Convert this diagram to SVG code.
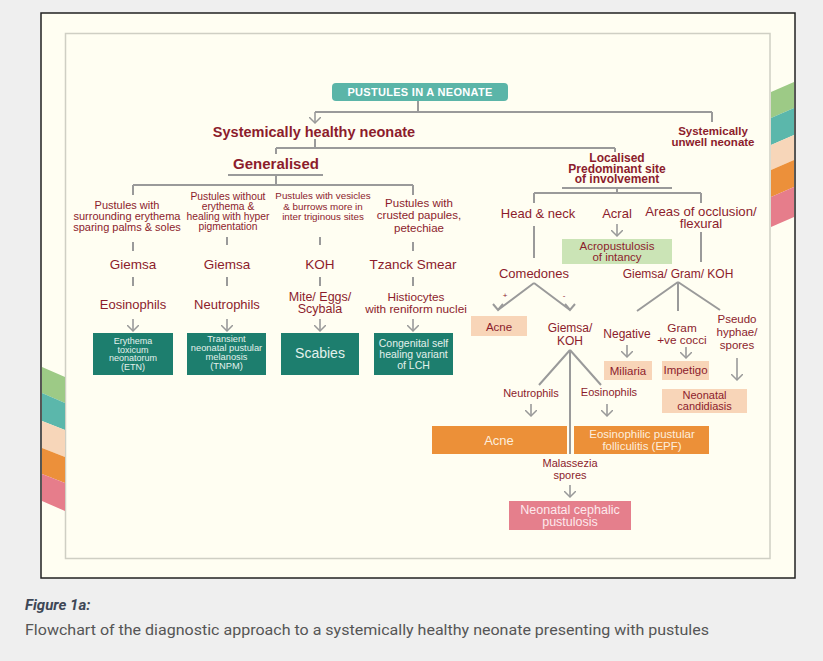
<svg xmlns="http://www.w3.org/2000/svg" width="823" height="661" viewBox="0 0 823 661">
<defs>
<marker id="chev" viewBox="0 0 10 12" refX="6" refY="6" markerWidth="10" markerHeight="12" markerUnits="userSpaceOnUse" orient="auto">
<path d="M0,0 L6,6 L0,12" fill="none" stroke="#999" stroke-width="1.5"/>
</marker>
<style>
.ln{fill:none;stroke:#9a9a9a;stroke-width:2}
.ar{fill:none;stroke:#9a9a9a;stroke-width:1.6;marker-end:url(#chev)}
.t{font-family:"Liberation Sans",Arial,sans-serif;fill:#8c1c2c;text-anchor:middle}
.b{font-weight:bold}
.w{fill:#e3f1ec}
.wo{fill:#fdeedd}
.teal{fill:#1d7e6e}
.peach{fill:#f8d5b8}
.orange{fill:#ec9038}
.pink{fill:#e57f8c}
.lg{fill:#cbe4b6}
</style>
</defs>
<rect x="0" y="0" width="823" height="661" fill="#efefef"/>
<rect x="41" y="13" width="754" height="565" fill="#fffef2" stroke="#222" stroke-width="1.5"/>
<rect x="65.5" y="33.5" width="704.5" height="525" fill="none" stroke="#cfcfc4" stroke-width="1.5"/>
<g id="stripes-left">
<polygon points="42,367 65,377 65,403 42,393" fill="#9dca86"/>
<polygon points="42,393 65,403 65,430 42,421" fill="#5bb7ab"/>
<polygon points="42,421 65,430 65,457 42,448" fill="#f7d6b9"/>
<polygon points="42,448 65,457 65,483 42,474" fill="#ec903a"/>
<polygon points="42,474 65,483 65,511 42,501" fill="#e67d8b"/>
</g>
<g id="stripes-right">
<polygon points="771,92 794,82 794,108 771,118" fill="#9dca86"/>
<polygon points="771,118 794,108 794,135 771,145" fill="#5bb7ab"/>
<polygon points="771,145 794,135 794,160 771,170" fill="#f7d6b9"/>
<polygon points="771,170 794,160 794,187 771,197" fill="#ec903a"/>
<polygon points="771,197 794,187 794,217 771,227" fill="#e67d8b"/>
</g>
<g id="connectors">
<path class="ln" d="M418,101 V112 M315,112 H712 M712,112 V122"/>
<path class="ar" d="M315,112 V123"/>
<path class="ln" d="M315,139 V148 M276,148 H615 M276,148 V154 M615,148 V152"/>
<path class="ln" d="M228,175 H323 M276,175 V185 M133,185 H413 M133,185 V195 M413,185 V195"/>
<path class="ln" d="M133,242 V251 M227,237 V245 M320,237 V245 M413,242 V251"/>
<path class="ln" d="M133,277 V286 M227,277 V286 M320,277 V286 M413,277 V286"/>
<path class="ar" d="M133,319 V331"/>
<path class="ar" d="M227,319 V331"/>
<path class="ar" d="M320,319 V331"/>
<path class="ar" d="M413,319 V331"/>
<path class="ln" d="M562,188 H672 M617,188 V193 M534,193 H701 M534,193 V203 M701,193 V203"/>
<path class="ar" d="M617,224 V236"/>
<path class="ln" d="M534,226 V258 M701,232 V262"/>
<path class="ln" d="M534,283 L498,310 M534,283 L570,310"/>
<path class="ln" d="M493,304 L498,310 L503,304 M565,304 L570,310 L575,304" stroke-width="1.6"/>
<path class="ln" d="M678,282 L637,311 M678,282 V311 M678,282 L720,310"/>
<path class="ar" d="M627,345 V357"/>
<path class="ar" d="M686,347 V358"/>
<path class="ar" d="M737,358 V380"/>
<path class="ln" d="M570,350 L539,385 M570,350 L601,385 M570,350 V454"/>
<path class="ar" d="M531,404 V416"/>
<path class="ar" d="M607,404 V416"/>
<path class="ar" d="M570,485 V497"/>
</g>
<g id="n-title">
<rect x="332" y="83" width="176" height="18" rx="4" fill="#5bb5a8"/>
<text class="t b" x="420" y="96" font-size="11" style="fill:#fff" letter-spacing="0.3">PUSTULES IN A NEONATE</text>
</g>
<g id="n-healthy"><text class="t b" x="314" y="137" font-size="14.5">Systemically healthy neonate</text></g>
<g id="n-unwell"><text class="t b" x="713" y="135" font-size="11.5">Systemically</text><text class="t b" x="713" y="146" font-size="11.5">unwell neonate</text></g>
<g id="n-generalised"><text class="t b" x="276" y="169" font-size="15">Generalised</text></g>
<g id="n-localised"><text class="t b" font-size="12"><tspan x="617" y="162">Localised</tspan><tspan x="617" y="172.5">Predominant site</tspan><tspan x="617" y="183">of involvement</tspan></text></g>
<g id="n-col1"><text class="t" font-size="11"><tspan x="127" y="209">Pustules with</tspan><tspan x="127" y="220">surrounding erythema</tspan><tspan x="127" y="231">sparing palms &amp; soles</tspan></text></g>
<g id="n-col2"><text class="t" font-size="10.3"><tspan x="228" y="200">Pustules without</tspan><tspan x="228" y="210">erythema &amp;</tspan><tspan x="228" y="220">healing with hyper</tspan><tspan x="228" y="230">pigmentation</tspan></text></g>
<g id="n-col3"><text class="t" font-size="9.8"><tspan x="323" y="199">Pustules with vesicles</tspan><tspan x="323" y="210">&amp; burrows more in</tspan><tspan x="323" y="220">inter triginous sites</tspan></text></g>
<g id="n-col4"><text class="t" font-size="11.5"><tspan x="419" y="207">Pustules with</tspan><tspan x="419" y="219">crusted papules,</tspan><tspan x="419" y="232">petechiae</tspan></text></g>
<g id="n-giemsa1"><text class="t" x="133" y="269" font-size="13.5">Giemsa</text></g>
<g id="n-giemsa2"><text class="t" x="227" y="269" font-size="13.5">Giemsa</text></g>
<g id="n-koh"><text class="t" x="320" y="269" font-size="13.5">KOH</text></g>
<g id="n-tzanck"><text class="t" x="413" y="269" font-size="13.5">Tzanck Smear</text></g>
<g id="n-eos1"><text class="t" x="133" y="309" font-size="13">Eosinophils</text></g>
<g id="n-neu1"><text class="t" x="227" y="309" font-size="13">Neutrophils</text></g>
<g id="n-mite"><text class="t" font-size="12.5"><tspan x="320" y="301">Mite/ Eggs/</tspan><tspan x="320" y="313">Scybala</tspan></text></g>
<g id="n-histio"><text class="t" font-size="11.8"><tspan x="416" y="301">Histiocytes</tspan><tspan x="416" y="313">with reniform nuclei</tspan></text></g>
<g id="n-etn"><rect class="teal" x="93" y="333" width="80" height="42"/><text class="t w" font-size="9"><tspan x="133" y="344">Erythema</tspan><tspan x="133" y="352.5">toxicum</tspan><tspan x="133" y="361">neonatorum</tspan><tspan x="133" y="369.5">(ETN)</tspan></text></g>
<g id="n-tnpm"><rect class="teal" x="187" y="333" width="79" height="42"/><text class="t w" font-size="9.3"><tspan x="226.5" y="342">Transient</tspan><tspan x="226.5" y="351">neonatal pustular</tspan><tspan x="226.5" y="360">melanosis</tspan><tspan x="226.5" y="369">(TNPM)</tspan></text></g>
<g id="n-scabies"><rect class="teal" x="281" y="333" width="78" height="42"/><text class="t w" x="320" y="358" font-size="14">Scabies</text></g>
<g id="n-lch"><rect class="teal" x="374" y="333" width="79" height="42"/><text class="t w" font-size="10.5"><tspan x="413.5" y="347">Congenital self</tspan><tspan x="413.5" y="358">healing variant</tspan><tspan x="413.5" y="369">of LCH</tspan></text></g>
<g id="n-head"><text class="t" x="538" y="218" font-size="13">Head &amp; neck</text></g>
<g id="n-acral"><text class="t" x="617" y="218" font-size="13">Acral</text></g>
<g id="n-occlusion"><text class="t" font-size="13.2"><tspan x="701" y="216">Areas of occlusion/</tspan><tspan x="701" y="228">flexural</tspan></text></g>
<g id="n-acro"><rect class="lg" x="562" y="239" width="110" height="25"/><text class="t" font-size="11.5"><tspan x="617" y="250">Acropustulosis</tspan><tspan x="617" y="261">of intancy</tspan></text></g>
<g id="n-comedones"><text class="t" x="534" y="278" font-size="13">Comedones</text><text class="t" x="505" y="298" font-size="8">+</text><text class="t" x="564" y="298" font-size="8">-</text></g>
<g id="n-acne1"><rect class="peach" x="471" y="316" width="56" height="20"/><text class="t" x="499" y="331" font-size="11.5">Acne</text></g>
<g id="n-giemsakoh"><text class="t" font-size="12"><tspan x="570" y="332">Giemsa/</tspan><tspan x="570" y="345">KOH</tspan></text></g>
<g id="n-ggk"><text class="t" x="678" y="278" font-size="12">Giemsa/ Gram/ KOH</text></g>
<g id="n-negative"><text class="t" x="627" y="338" font-size="12">Negative</text></g>
<g id="n-miliaria"><rect class="peach" x="604" y="361" width="48" height="19"/><text class="t" x="628" y="375" font-size="11.5">Miliaria</text></g>
<g id="n-gram"><text class="t" font-size="11.8"><tspan x="682" y="332">Gram</tspan><tspan x="682" y="344">+ve cocci</tspan></text></g>
<g id="n-impetigo"><rect class="peach" x="662" y="361" width="47" height="19"/><text class="t" x="685.5" y="374" font-size="11.5">Impetigo</text></g>
<g id="n-pseudo"><text class="t" font-size="11.5"><tspan x="737" y="323">Pseudo</tspan><tspan x="737" y="336">hyphae/</tspan><tspan x="737" y="349">spores</tspan></text></g>
<g id="n-candida"><rect class="peach" x="662" y="389" width="85" height="24"/><text class="t" font-size="11"><tspan x="704.5" y="399">Neonatal</tspan><tspan x="704.5" y="410">candidiasis</tspan></text></g>
<g id="n-neu2"><text class="t" x="531" y="397" font-size="11">Neutrophils</text></g>
<g id="n-eos2"><text class="t" x="609" y="396" font-size="11">Eosinophils</text></g>
<g id="n-acne2"><rect class="orange" x="432" y="426" width="135" height="28"/><text class="t wo" x="499" y="445" font-size="13">Acne</text></g>
<g id="n-epf"><rect class="orange" x="574" y="426" width="135" height="28"/><text class="t wo" font-size="11.5"><tspan x="642" y="438">Eosinophilic pustular</tspan><tspan x="642" y="450">folliculitis (EPF)</tspan></text></g>
<g id="n-malassezia"><text class="t" font-size="11"><tspan x="570" y="467">Malassezia</tspan><tspan x="570" y="479">spores</tspan></text></g>
<g id="n-ncp"><rect class="pink" x="509" y="501" width="122" height="29"/><text class="t" font-size="12.5" style="fill:#fde9ec"><tspan x="570" y="514">Neonatal cephalic</tspan><tspan x="570" y="526">pustulosis</tspan></text></g>
<g id="caption">
<text x="25" y="610" font-family="Roboto,'Liberation Sans',sans-serif" font-size="15" font-weight="bold" font-style="italic" fill="#3e4756">Figure 1a:</text>
<text x="25" y="635" font-family="Roboto,'Liberation Sans',sans-serif" font-size="15.5" fill="#555" textLength="684" lengthAdjust="spacingAndGlyphs">Flowchart of the diagnostic approach to a systemically healthy neonate presenting with pustules</text>
</g>
</svg>
